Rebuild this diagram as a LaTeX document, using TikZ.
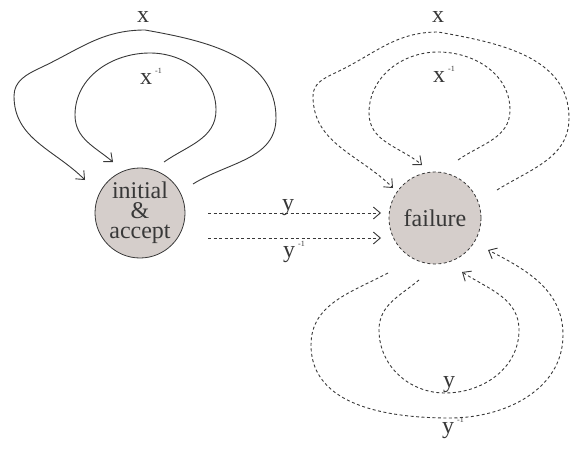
\documentclass[tikz,border=0pt]{standalone}
\usepackage{fontspec}
\setmainfont{Liberation Serif}
\usetikzlibrary{arrows.meta}
\definecolor{ln}{HTML}{383838}
\definecolor{fl}{HTML}{D5CECB}
\newcommand{\mysup}{\hspace{3pt}\raisebox{11pt}{\fontsize{8}{8}\selectfont -1}}
\begin{document}
\begin{tikzpicture}[x=1pt,y=1pt,
  state/.style={circle,draw=ln,fill=fl,line width=0.8pt,inner sep=0pt,minimum size=90pt,
    text=ln,font=\fontsize{24}{20}\selectfont,align=center},
  conn/.style={draw=ln,line width=0.9pt,-{Straight Barb[length=7pt,width=12pt]}},
  dsh/.style={dash pattern=on 3pt off 2.5pt},
  lbl/.style={inner sep=0pt,anchor=base west,text=ln,font=\fontsize{24}{24}\selectfont}]
\useasboundingbox (0,0) rectangle (570,448);
% nodes
\node[state] (L) at (140,235) {initial\\\&\\accept};
\node[state,dsh,minimum size=92pt] (R) at (435,230) {failure};
% coordinates: left outer
\coordinate (s1) at (193,264); \coordinate (r1) at (276,330); \coordinate (t1) at (145,418);
\coordinate (a1) at (40,380); \coordinate (l1) at (14,352); \coordinate (e1) at (85,268);
% left inner
\coordinate (s2) at (164,286); \coordinate (r2) at (216,338); \coordinate (t2) at (150,395);
\coordinate (l2) at (75,333); \coordinate (e2) at (113,286);
% right outer
\coordinate (s3) at (497,258); \coordinate (r3) at (569,330); \coordinate (t3) at (438,416);
\coordinate (a3) at (335,375); \coordinate (l3) at (313,352); \coordinate (e3) at (393,260);
% right inner
\coordinate (s4) at (458,288); \coordinate (r4) at (510,338); \coordinate (t4) at (438,396);
\coordinate (l4) at (369,335); \coordinate (e4) at (422,283);
% bottom inner
\coordinate (s5) at (419,168); \coordinate (l5) at (379,118); \coordinate (b5) at (445,55);
\coordinate (r5) at (519,118); \coordinate (e5) at (462,176);
% bottom outer
\coordinate (s6) at (388,175); \coordinate (l6) at (311,103); \coordinate (b6) at (450,30);
\coordinate (r6) at (563,113); \coordinate (e6) at (488,198);
% horizontal
\coordinate (h1s) at (208,235); \coordinate (h1e) at (381,235);
\coordinate (h2s) at (208,210); \coordinate (h2e) at (381,210);
% left loops
\draw[conn] (s1) to[out=32,in=-90] (r1) to[out=90,in=-10] (t1) to[out=180,in=25] (a1)
  to[out=205,in=90] (l1) to[out=-90,in=135] (e1);
\draw[conn] (s2) to[out=35,in=-90] (r2) to[out=90,in=0] (t2) to[out=180,in=90] (l2)
  to[out=-90,in=140] (e2);
% right loops
\draw[conn,dsh] (s3) to[out=32,in=-90] (r3) to[out=90,in=-10] (t3) to[out=180,in=25] (a3)
  to[out=205,in=90] (l3) to[out=-90,in=135] (e3);
\draw[conn,dsh] (s4) to[out=35,in=-90] (r4) to[out=90,in=0] (t4) to[out=180,in=90] (l4)
  to[out=-90,in=140] (e4);
% bottom loops
\draw[conn,dsh] (s5) to[out=220,in=90] (l5) to[out=-90,in=180] (b5) to[out=0,in=-90] (r5)
  to[out=90,in=-33] (e5);
\draw[conn,dsh] (s6) to[out=208,in=90] (l6) to[out=-90,in=180] (b6) to[out=0,in=-90] (r6)
  to[out=90,in=-27] (e6);
% horizontal arrows
\draw[conn,dsh] (h1s) -- (h1e);
\draw[conn,dsh] (h2s) -- (h2e);
% labels
\node[lbl] (lx1) at (137,425) {x};
\node[lbl] (lx2) at (140,363) {x\mysup};
\node[lbl] (rx1) at (432,425) {x};
\node[lbl] (rx2) at (433,365) {x\mysup};
\node[lbl] (ly1) at (282,238) {y};
\node[lbl] (ly2) at (283,191) {y\mysup};
\node[lbl] (by1) at (443,61) {y};
\node[lbl] (by2) at (442,15) {y\mysup};
\end{tikzpicture}
\end{document}
